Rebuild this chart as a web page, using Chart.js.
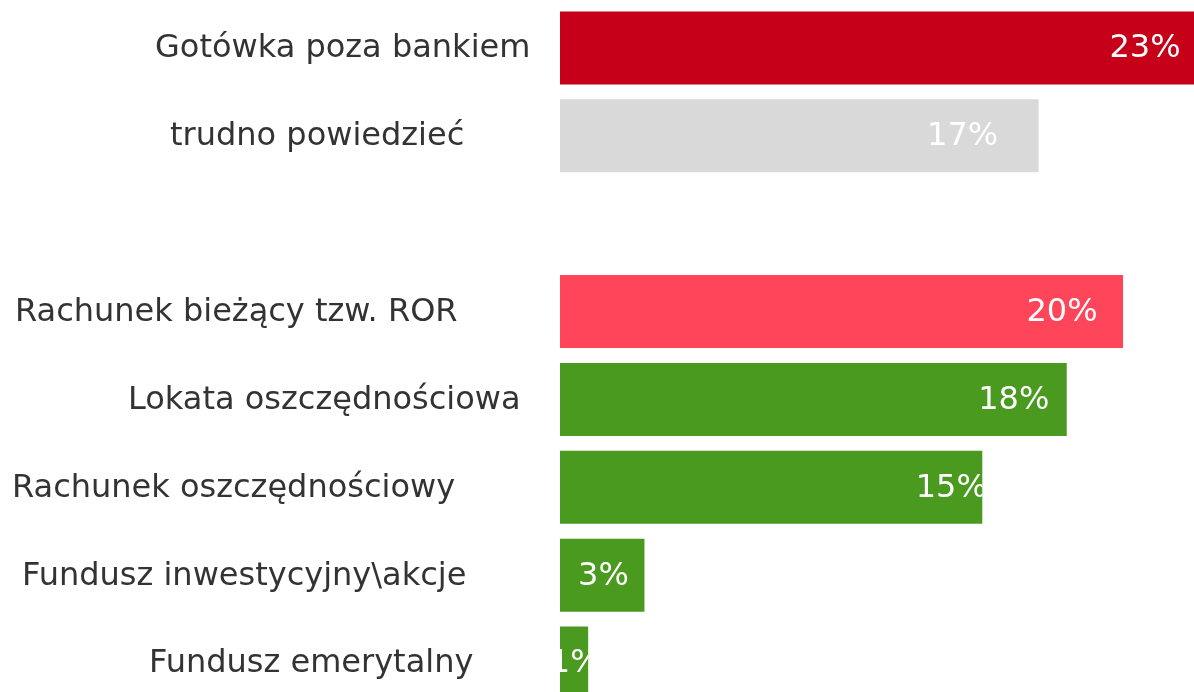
<!DOCTYPE html>
<html>
<head>
<meta charset="utf-8">
<script src="https://cdn.jsdelivr.net/npm/chart.js@4"></script>
<style>
  html, body { margin: 0; padding: 0; background: #fff; overflow: hidden; }
  #wrap { position: absolute; left: 0; top: 0; width: 1194px; height: 711px; }
</style>
</head>
<body>
<div id="wrap"><canvas id="savingsChart"></canvas></div>
<script>
  // chart data
  const categories = [
    'Gotówka poza bankiem',
    'trudno powiedzieć',
    '',
    'Rachunek bieżący tzw. ROR',
    'Lokata oszczędnościowa',
    'Rachunek oszczędnościowy',
    'Fundusz inwestycyjny\\akcje',
    'Fundusz emerytalny'
  ];
  const shares = [23, 17, null, 20, 18, 15, 3, 1];
  const barColors = ['#C50018', '#D9D9D9', '#ffffff', '#FF4559', '#4A9A1F', '#4A9A1F', '#4A9A1F', '#4A9A1F'];

  // layout: left edge of each category label, shift of value label centre from the bar end (px)
  const labelLeft = [155, 170, 0, 15, 128, 12, 22, 149];
  const valueShift = [-49, -76, 0, -61, -53, -31, -41, -13];

  const FONT = '32px "DejaVu Sans", Verdana, sans-serif';

  const labelPlugin = {
    id: 'labelPlugin',
    afterDatasetsDraw(chart) {
      const ctx = chart.ctx;
      const meta = chart.getDatasetMeta(0);
      const yScale = chart.scales.y;
      const area = chart.chartArea;
      ctx.save();
      ctx.font = FONT;
      ctx.textBaseline = 'middle';

      categories.forEach(function (name, i) {
        if (!name) return;
        const y = yScale.getPixelForValue(i);
        ctx.fillStyle = '#333333';
        ctx.textAlign = 'left';
        ctx.fillText(name, labelLeft[i], y + 1);
      });

      meta.data.forEach(function (bar, i) {
        if (shares[i] == null) return;
        const end = Math.min(bar.x, area.right);
        const top = bar.y - bar.height / 2;
        ctx.save();
        ctx.beginPath();
        ctx.rect(bar.base, top, end - bar.base, bar.height);
        ctx.clip();
        ctx.fillStyle = '#ffffff';
        ctx.textAlign = 'center';
        ctx.fillText(shares[i] + '%', end + valueShift[i], bar.y + 1);
        ctx.restore();
      });
      ctx.restore();
    }
  };

  new Chart(document.getElementById('savingsChart'), {
    type: 'bar',
    data: {
      labels: categories,
      datasets: [{
        data: shares,
        backgroundColor: barColors,
        borderWidth: 0,
        barPercentage: 0.83,
        categoryPercentage: 1
      }]
    },
    options: {
      indexAxis: 'y',
      responsive: true,
      maintainAspectRatio: false,
      animation: false,
      layout: { padding: { left: 560, top: 4, bottom: 4, right: 0 } },
      plugins: {
        legend: { display: false },
        tooltip: { enabled: false }
      },
      scales: {
        x: { display: false, min: 0, max: 22.52 },
        y: { display: false }
      }
    },
    plugins: [labelPlugin]
  });
</script>
</body>
</html>
